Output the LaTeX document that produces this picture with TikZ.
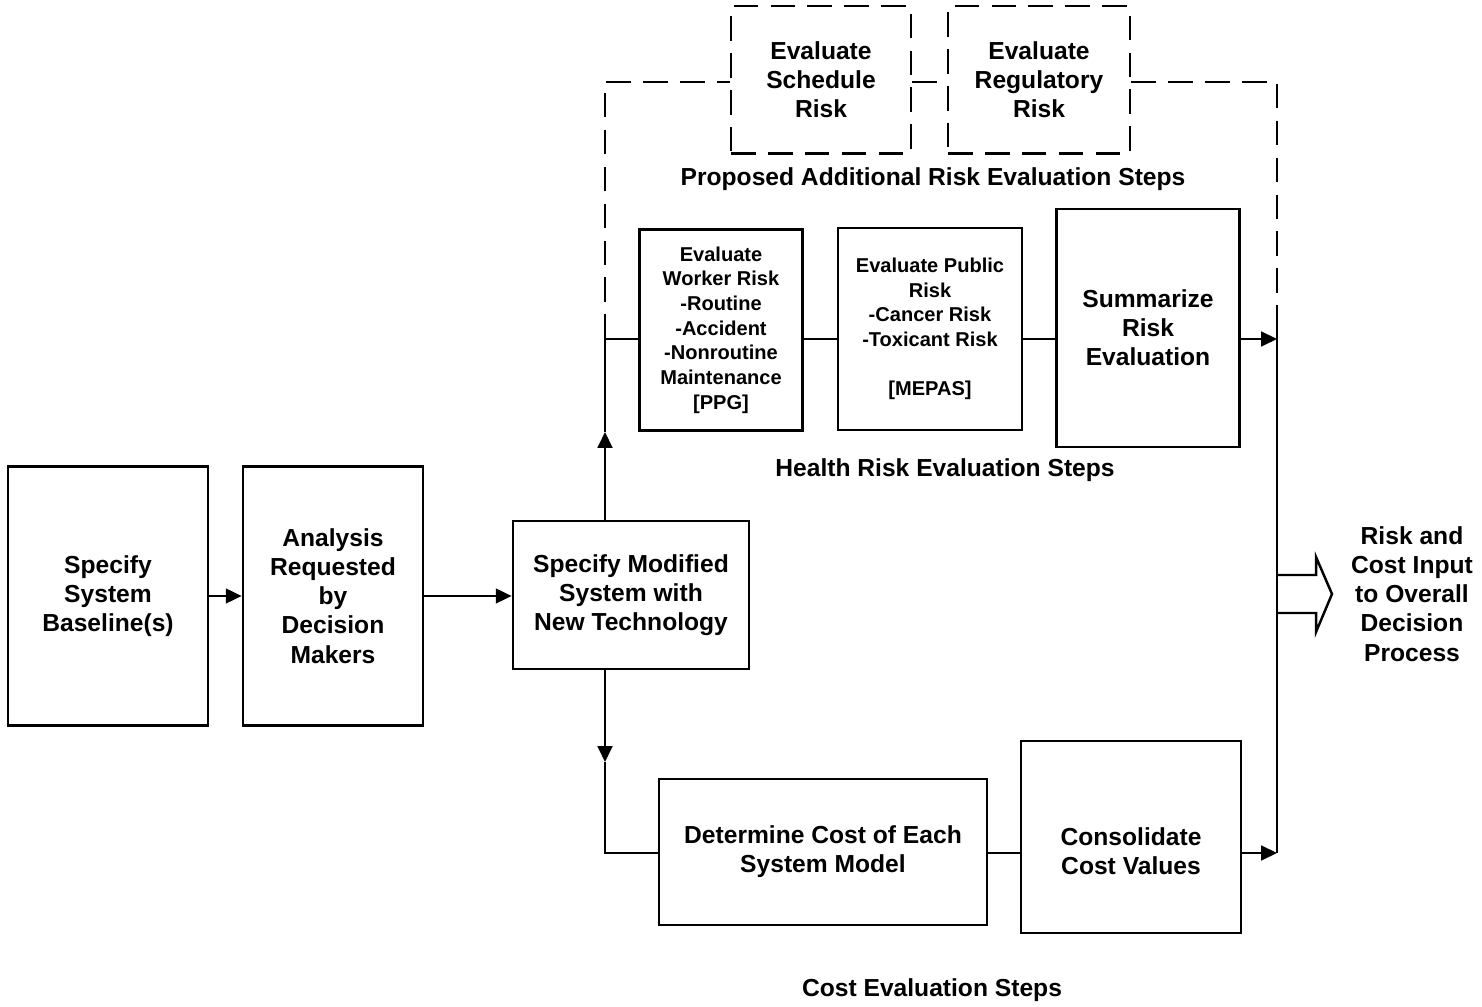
\documentclass[tikz,border=0pt]{standalone}
\usepackage{fontspec}
\setmainfont{Liberation Sans}
\usetikzlibrary{arrows.meta}
\tikzset{>={Triangle[length=4.5pt,width=4.2pt]}}
\tikzset{
	% boxes
	box/.style={draw, line width=0.75pt, align=center, inner sep=1pt, font=\bfseries\fontsize{7}{8.3}\selectfont},
	smallbox/.style={box, font=\bfseries\fontsize{5.7}{7}\selectfont},
	dashbox/.style={box, line width=0.6pt, dash pattern=on 7pt off 3.5pt},
	% lines
	link/.style={line width=0.6pt},
	dashlink/.style={line width=0.6pt, dash pattern=on 7pt off 3.5pt},
	caption/.style={align=center, inner sep=1pt, font=\bfseries\fontsize{7}{8.3}\selectfont},
}

\begin{document}
\begin{tikzpicture}[x=0.01cm, y=-0.01cm]
	\useasboundingbox (0,0) rectangle (1482,1007);
	
	\node[box, minimum width=2cm, minimum height=2.59cm] (base) at (108,596) {Specify\\System\\Baseline(s)};
	\node[box, minimum width=1.8cm, minimum height=2.59cm] (req) at (333,596) {Analysis\\Requested\\by\\Decision\\Makers};
	\node[box, minimum width=2.36cm, minimum height=1.48cm] (mod) at (631,595) {Specify Modified\\System with\\New Technology};
	
	\node[smallbox, minimum width=1.63cm, minimum height=2.01cm] (work) at (721,330) {Evaluate\\Worker Risk\\-Routine\\-Accident\\-Nonroutine\\Maintenance\\{[PPG]}};
	\node[smallbox, minimum width=1.84cm, minimum height=2.02cm] (pub) at (930,329) {Evaluate Public\\Risk\\-Cancer Risk\\-Toxicant Risk\\\\{[MEPAS]}};
	\node[box, minimum width=1.83cm, minimum height=2.38cm] (sum) at (1148,328) {Summarize\\Risk\\Evaluation};
	
	\node[dashbox, minimum width=1.8cm, minimum height=1.47cm] (sched) at (821,80) {Evaluate\\Schedule\\Risk};
	\node[dashbox, minimum width=1.82cm, minimum height=1.47cm] (reg) at (1039,80) {Evaluate\\Regulatory\\Risk};
	
	\node[box, minimum width=3.28cm, minimum height=1.46cm] (cost) at (823,852) {Determine Cost of Each\\System Model};
	\node[box, minimum width=2.2cm, minimum height=1.92cm] (cons) at (1131,837) {};
	\node[caption] (consT) at (1131,851) {Consolidate\\Cost Values};
	
	\node[caption] (propL) at (933,179) {Proposed Additional Risk Evaluation Steps};
	\node[caption] (healthL) at (945,470) {Health Risk Evaluation Steps};
	\node[caption] (costL) at (932,990) {Cost Evaluation Steps};
	\node[caption] (outL) at (1412,594) {Risk and\\Cost Input\\to Overall\\Decision\\Process};
	
	\coordinate (hrow) at (605,339);
	\coordinate (upA) at (605,432);
	\coordinate (crow) at (605,853);
	\coordinate (dnA) at (605,762);
	\coordinate (busT) at (1277,339);
	\coordinate (busB) at (1277,853);
	\coordinate (frL) at (605,82);
	\coordinate (frR) at (1277,82);
	
	\draw[link,->] (base) -- (req);
	\draw[link,->] (req) -- (mod.west |- req);
	
	% health risk row
	\draw[link,->] (mod.north -| hrow) -- (upA);
	\draw[link] (upA) -- (hrow) -- (work.west |- hrow);
	\draw[link] (work.east |- hrow) -- (pub.west |- hrow);
	\draw[link] (pub.east |- hrow) -- (sum.west |- hrow);
	\draw[link,->] (sum.east |- hrow) -- (busT);
	
	% cost row
	\draw[link,->] (mod.south -| crow) -- (dnA);
	\draw[link] (dnA) -- (crow) -- (cost.west |- crow);
	\draw[link] (cost.east |- crow) -- (cons.west |- crow);
	\draw[link,->] (cons.east |- crow) -- (busB);
	
	\draw[link] ([yshift=0.2cm]busT) -- (busB);
	
	% proposed steps frame
	\draw[dashlink] (hrow) -- (frL) -- (sched.west |- frL);
	\draw[dashlink] (sched.east |- frL) -- (reg.west |- frL);
	\draw[dashlink] (reg.east |- frL) -- (frR) -- ([yshift=0.2cm]busT);
	
	% output arrow
	\draw[line width=0.7pt] (1277,575) -- (1316,575) -- (1316,557) -- (1332,594) -- (1316,632) -- (1316,613) -- (1277,613);
	
\end{tikzpicture}
\end{document}
